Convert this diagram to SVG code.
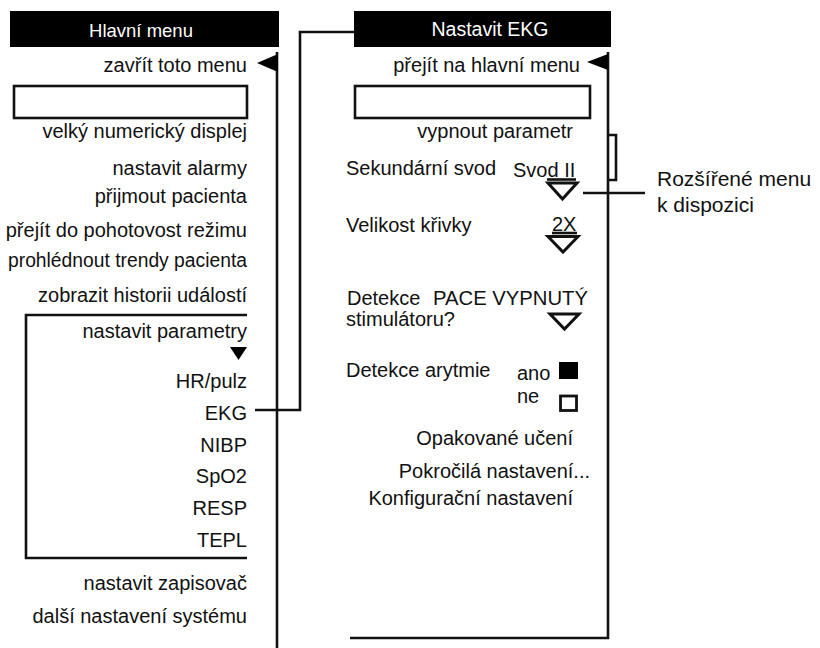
<svg xmlns="http://www.w3.org/2000/svg" width="820" height="648" viewBox="0 0 820 648">
<style>
text{font-family:"Liberation Sans",Arial,sans-serif;fill:#111}
.t{font-size:20px}
.r{font-size:20px}
.e{text-anchor:end}
.hd{font-size:18.5px;fill:#fff;text-anchor:middle}
.ln{fill:none;stroke:#111;stroke-width:2.6}
.box{fill:#fff;stroke:#111;stroke-width:2.6}
.tri{fill:#fff;stroke:#111;stroke-width:3;stroke-linejoin:miter}
</style>
<rect width="820" height="648" fill="#fff"/>

<g id="main-menu">
  <rect x="10" y="11" width="269" height="36" fill="#000"/>
  <text class="hd" x="141" y="37">Hlavní menu</text>
  <path class="ln" d="M277 52 V648"/>
  <polygon points="257,63 278,54 278,72" fill="#000"/>
  <text class="t e" x="247" y="72">zavřít toto menu</text>
  <rect class="box" x="14" y="86" width="233" height="32"/>
  <text class="t e" x="247" y="138">velký numerický displej</text>
  <text class="t e" x="247" y="175">nastavit alarmy</text>
  <text class="t e" x="247" y="203">přijmout pacienta</text>
  <text class="t e" x="247" y="237">přejít do pohotovost režimu</text>
  <text class="t e" x="247" y="267" textLength="239" lengthAdjust="spacingAndGlyphs">prohlédnout trendy pacienta</text>
  <text class="t e" x="247" y="302">zobrazit historii událostí</text>
  <path class="ln" d="M247 315 H26 V558 H247"/>
  <text class="t e" x="247" y="338">nastavit parametry</text>
  <polygon points="230,347 247,347 238.5,360" fill="#000"/>
  <text class="t e" x="247" y="388">HR/pulz</text>
  <text class="t e" x="247" y="420">EKG</text>
  <text class="t e" x="247" y="452">NIBP</text>
  <text class="t e" x="247" y="483">SpO2</text>
  <text class="t e" x="247" y="515">RESP</text>
  <text class="t e" x="247" y="547">TEPL</text>
  <text class="t e" x="247" y="590">nastavit zapisovač</text>
  <text class="t e" x="247" y="623">další nastavení systému</text>
</g>

<g id="ekg-menu">
  <rect x="354" y="11" width="257" height="36" fill="#000"/>
  <text class="hd" x="490" y="36" style="font-size:19.5px">Nastavit EKG</text>
  <path class="ln" d="M608 52 V638 H350"/>
  <path class="ln" d="M608 135 H616 V180 H608"/>
  <polygon points="587,62 608,54 608,70" fill="#000"/>
  <text class="r e" x="580" y="72">přejít na hlavní menu</text>
  <rect class="box" x="355" y="86" width="235" height="32"/>
  <text class="r e" x="573" y="138">vypnout parametr</text>
  <text class="r" x="346" y="175">Sekundární svod</text>
  <text class="r" x="513" y="177">Svod II</text>
  <path class="ln" d="M547 179.5 H576" stroke-width="1.8"/>
  <polygon class="tri" points="548,183 577,183 562.5,199"/>
  <text class="r" x="552" y="231">2X</text>
  <path class="ln" d="M552 233 H577" stroke-width="1.8"/>
  <polygon class="tri" points="548,236.5 578,236.5 563,252"/>
  <text class="r" x="346" y="232">Velikost křivky</text>
  <text class="r" x="347" y="305">Detekce</text>
  <text class="r" x="433" y="305" textLength="155" lengthAdjust="spacingAndGlyphs">PACE VYPNUTÝ</text>
  <text class="r" x="346" y="326">stimulátoru?</text>
  <polygon class="tri" points="550,314 579,314 564.5,329"/>
  <text class="r" x="346" y="377">Detekce arytmie</text>
  <text class="r" x="517" y="380">ano</text>
  <rect x="559" y="362" width="19" height="17" fill="#000"/>
  <text class="r" x="517" y="403">ne</text>
  <rect x="560.5" y="396" width="16" height="14.5" fill="#fff" stroke="#111" stroke-width="2.8"/>
  <text class="r e" x="573" y="445">Opakované učení</text>
  <text class="r e" x="590" y="478">Pokročilá nastavení...</text>
  <text class="r e" x="573" y="505">Konfigurační nastavení</text>
</g>

<g id="callout">
  <text class="r" x="657" y="186" style="font-size:21px">Rozšířené menu</text>
  <text class="r" x="657" y="212" style="font-size:21px">k dispozici</text>
</g>

<g id="connectors">
  <path class="ln" d="M255 410 H300 V32 H354"/>
  <path class="ln" d="M583 193 H645"/>
</g>
</svg>
